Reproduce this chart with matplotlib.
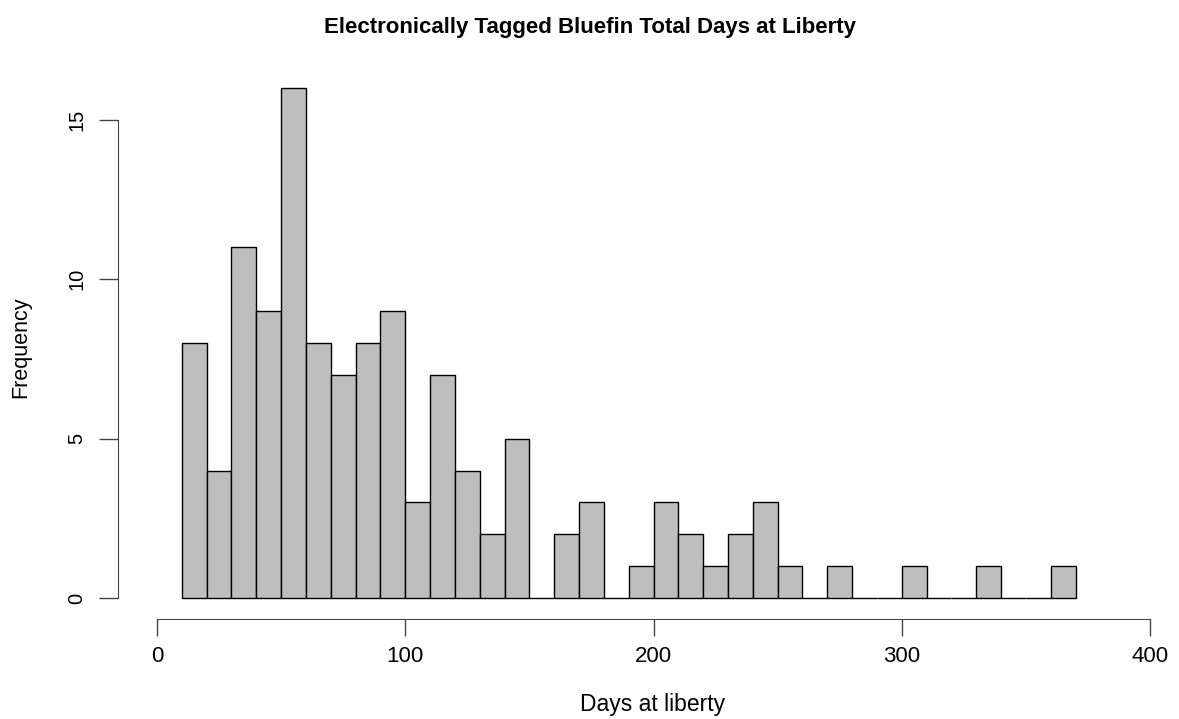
import matplotlib
matplotlib.use("Agg")
import matplotlib.pyplot as plt
import matplotlib.transforms as mtrans
import numpy as np

plt.rcParams['font.family'] = ['Liberation Sans', 'DejaVu Sans']

bin_edges = list(range(10, 380, 10))
counts = [8, 4, 11, 9, 16, 8, 7, 8, 9, 3, 7, 4, 2, 5, 0, 2, 3, 0, 1, 3,
          2, 1, 2, 3, 1, 0, 1, 0, 0, 1, 0, 0, 1, 0, 0, 1]
x_ticks = [0, 100, 200, 300, 400]
y_ticks = [0, 5, 10, 15]
title = "Electronically Tagged Bluefin Total Days at Liberty"
xlabel = "Days at liberty"
ylabel = "Frequency"

W, H = 1179, 719
fig = plt.figure(figsize=(W / 100, H / 100), dpi=100)

# pixel geometry
px_left, px_right = 118, 1179
px_top, px_bottom = 67, 619
ax = fig.add_axes([px_left / W, 1 - px_bottom / H,
                   (px_right - px_left) / W, (px_bottom - px_top) / H])

x0px, x400px = 157, 1150
sx = (x400px - x0px) / 400.0
xmin = (px_left - x0px) / sx
xmax = (px_right - x0px) / sx
y0px, y15px = 598, 120
sy = (y0px - y15px) / 15.0
ymin = -(px_bottom - y0px) / sy
ymax = (y0px - px_top) / sy
ax.set_xlim(xmin, xmax)
ax.set_ylim(ymin, ymax)

lefts = np.array(bin_edges[:-1])
widths = np.diff(bin_edges)
ax.bar(lefts, counts, width=widths, align='edge', color='#BEBEBE',
       edgecolor='black', linewidth=1.0)

axis_col = '#444444'
for s in ax.spines.values():
    s.set_visible(False)
ax.spines['bottom'].set_visible(True)
ax.spines['bottom'].set_bounds(x_ticks[0], x_ticks[-1])
ax.spines['bottom'].set_color(axis_col)
ax.spines['left'].set_visible(True)
ax.spines['left'].set_bounds(y_ticks[0], y_ticks[-1])
ax.spines['left'].set_color(axis_col)
ax.set_xticks(x_ticks)
ax.set_xticklabels([])
ax.set_yticks(y_ticks)
ax.set_yticklabels([])
ax.tick_params(axis='x', length=12, width=1, color=axis_col)
ax.tick_params(axis='y', length=14, width=1, color=axis_col)

tx = mtrans.blended_transform_factory(ax.transData, fig.transFigure)
ty = mtrans.blended_transform_factory(fig.transFigure, ax.transData)
for t in x_ticks:
    fig.text(t, 1 - 657 / H, str(t), transform=tx, ha='center',
             va='center', fontsize=16)
for t in y_ticks:
    fig.text(76.5 / W, t, str(t), transform=ty, ha='center', va='center',
             fontsize=14.5, rotation=90)

fig.text(0.5, 1 - 27 / H, title, ha='center', va='center', fontsize=16,
         fontweight='bold')
fig.text(653 / W, 1 - 705 / H, xlabel, ha='center',
         va='center', fontsize=16.5)
fig.text(21 / W, 1 - 347 / H, ylabel, ha='center', va='center',
         fontsize=15.5, rotation=90)

fig.savefig('out.png', dpi=100)
